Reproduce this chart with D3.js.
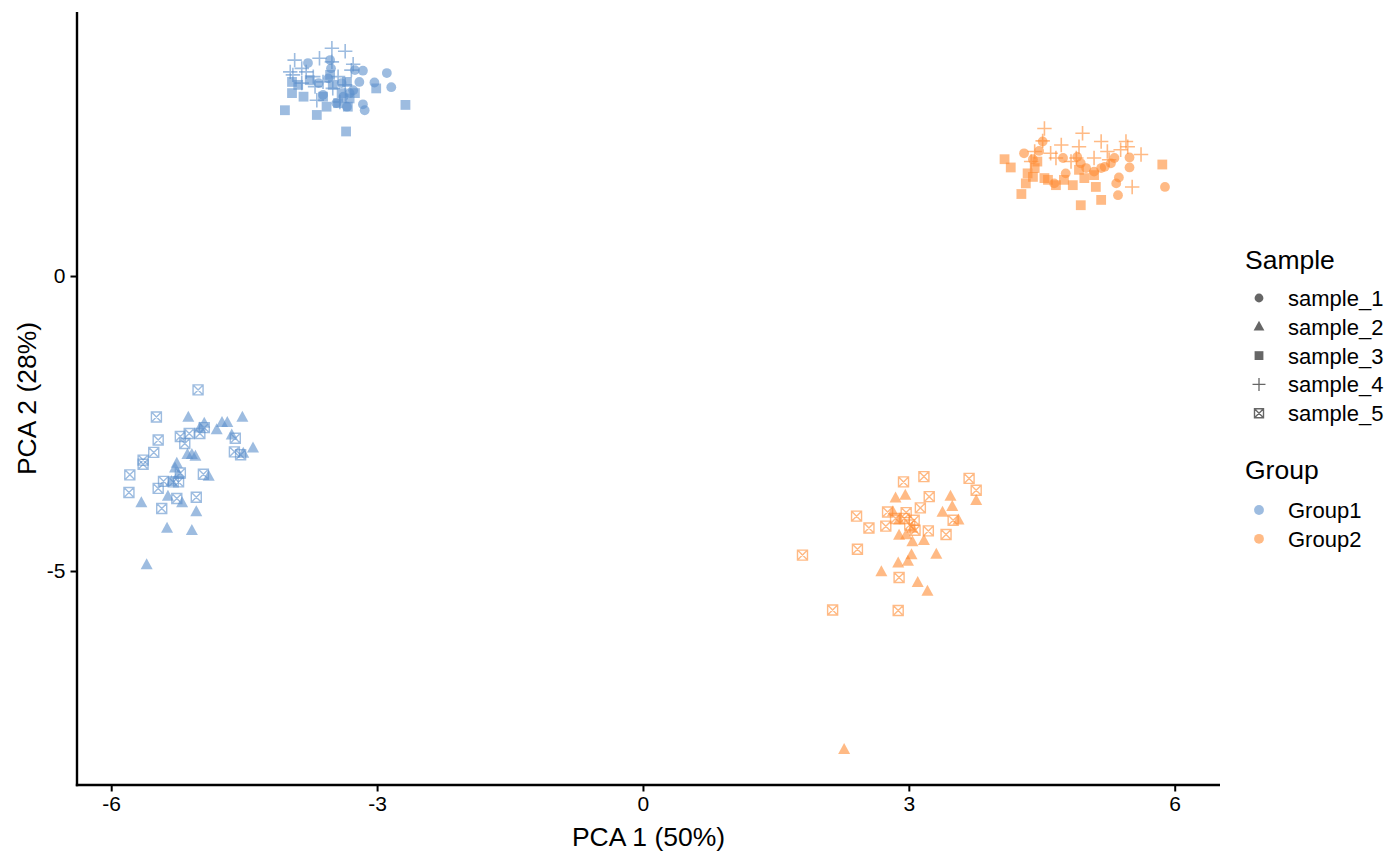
<!DOCTYPE html>
<html>
<head>
<meta charset="utf-8">
<script src="https://cdn.jsdelivr.net/npm/d3@7"></script>
<style>
  html, body { margin: 0; padding: 0; background: #fff; }
  text { font-family: "Liberation Sans", Arial, Helvetica, sans-serif; }
</style>
</head>
<body>
<svg id="chart" width="1400" height="865"></svg>
<script>
// ---------- data ----------
const groups = ["Group1", "Group2"];
const samples = ["sample_1", "sample_2", "sample_3", "sample_4", "sample_5"];
const xTicks = [-6, -3, 0, 3, 6];
const yTicks = [-5, 0];

// Group1, sample_1 (circles)
const g1s1 = [[-3.78,3.61],[-3.53,3.66],[-3.52,3.52],[-3.16,3.48],[-2.89,3.44],[-3.20,3.29],[-3.03,3.28],[-2.84,3.20],[-3.16,2.91],[-3.14,2.81],[-3.61,3.07],[-3.31,3.10],[-3.27,3.15],[-3.34,2.87],[-3.46,2.93],[-3.55,3.35],[-3.66,3.27],[-3.40,3.27],[-3.25,3.49],[-3.38,3.04]];
// Group1, sample_3 (squares)
const g1s3 = [[-3.96,3.29],[-3.96,3.10],[-3.83,3.04],[-4.04,2.81],[-3.68,2.73],[-3.35,2.45],[-3.01,3.18],[-2.68,2.90],[-3.57,2.87],[-3.44,2.93],[-3.33,2.87],[-3.25,3.10],[-3.61,3.04],[-3.50,3.24],[-3.34,3.29],[-3.76,3.32],[-3.89,3.24],[-3.40,3.10],[-3.53,3.41],[-3.31,3.01]];
// Group1, sample_4 (crosses)
const g1s4 = [[-3.51,3.86],[-3.36,3.81],[-3.93,3.66],[-3.65,3.69],[-3.51,3.63],[-3.27,3.59],[-3.29,3.49],[-3.85,3.52],[-3.95,3.41],[-3.72,3.38],[-3.70,3.21],[-3.68,2.98],[-3.44,3.38],[-3.36,3.24],[-3.80,3.46],[-3.61,3.29],[-3.50,3.18],[-3.42,2.95],[-3.85,3.27],[-3.98,3.46]];
// Group1, sample_2 (triangles)
const g1s2 = [[-5.13,-2.40],[-4.95,-2.50],[-4.75,-2.49],[-4.69,-2.49],[-4.52,-2.40],[-4.81,-2.61],[-4.64,-2.70],[-4.40,-2.92],[-4.51,-3.01],[-5.14,-3.03],[-5.05,-3.06],[-5.26,-3.18],[-5.28,-3.26],[-5.24,-3.37],[-4.90,-3.40],[-5.36,-3.74],[-5.20,-3.85],[-5.66,-3.85],[-5.04,-4.00],[-5.37,-4.28],[-5.09,-4.32],[-5.60,-4.90],[-5.00,-2.58],[-5.32,-3.49],[-5.09,-3.03]];
// Group1, sample_5 (boxed x)
const g1s5 = [[-5.02,-1.93],[-5.49,-2.39],[-5.47,-2.78],[-5.52,-2.99],[-5.64,-3.12],[-5.64,-3.19],[-5.79,-3.37],[-5.80,-3.67],[-5.43,-3.94],[-5.26,-3.77],[-5.04,-3.75],[-4.96,-3.36],[-5.22,-3.34],[-5.24,-3.49],[-5.30,-3.49],[-5.41,-3.48],[-5.47,-3.60],[-5.22,-2.72],[-5.17,-2.84],[-5.12,-2.67],[-5.00,-2.67],[-4.95,-2.57],[-4.60,-2.75],[-4.61,-2.98],[-4.54,-3.03]];

// Group2, sample_1 (circles)
const g2s1 = [[4.30,2.08],[4.47,2.12],[4.40,1.98],[4.74,2.00],[4.51,2.28],[4.90,2.02],[4.94,1.91],[5.00,1.83],[4.77,1.74],[5.17,1.83],[5.21,1.85],[5.28,1.91],[5.32,2.00],[5.49,2.01],[5.49,1.84],[5.37,1.67],[5.34,1.57],[5.36,1.37],[5.89,1.51],[4.64,1.57],[5.09,1.77]];
// Group2, sample_3 (squares)
const g2s3 = [[4.08,1.98],[4.15,1.84],[4.27,1.39],[4.32,1.57],[4.53,1.66],[4.66,1.54],[4.85,1.54],[4.94,1.20],[5.17,1.29],[5.11,1.51],[5.86,1.89],[4.42,1.83],[4.98,1.66],[4.40,1.68],[4.75,1.63],[4.57,1.63],[4.45,1.94],[4.92,1.80],[5.09,1.71],[4.34,1.74]];
// Group2, sample_4 (crosses)
const g2s4 = [[4.53,2.50],[4.51,2.29],[4.72,2.22],[4.96,2.42],[5.17,2.28],[4.92,2.19],[4.89,2.00],[5.09,2.00],[5.45,2.28],[5.47,2.19],[5.62,2.06],[5.39,2.14],[5.52,1.51],[4.38,1.94],[4.60,2.08],[4.66,2.00],[4.42,2.11],[5.24,2.11],[4.83,1.94],[5.26,1.97]];
// Group2, sample_2 (triangles)
const g2s2 = [[2.85,-3.77],[2.96,-3.72],[3.47,-3.74],[3.49,-3.91],[3.76,-3.81],[3.38,-4.01],[3.56,-4.14],[2.89,-4.40],[2.97,-4.39],[3.04,-4.51],[3.17,-4.49],[3.31,-4.72],[3.03,-4.73],[2.99,-4.84],[2.88,-4.87],[2.69,-5.02],[3.10,-5.20],[3.21,-5.35],[2.82,-4.00],[2.89,-4.14],[3.04,-4.28],[2.27,-8.03]];
// Group2, sample_5 (boxed x)
const g2s5 = [[2.94,-3.49],[3.17,-3.40],[3.68,-3.43],[3.76,-3.63],[3.23,-3.74],[3.13,-3.93],[2.41,-4.07],[2.55,-4.27],[2.76,-4.00],[2.97,-4.01],[2.74,-4.24],[2.85,-4.11],[3.06,-4.14],[3.07,-4.31],[3.22,-4.32],[3.42,-4.38],[3.50,-4.14],[2.42,-4.63],[1.80,-4.73],[2.89,-5.11],[2.14,-5.66],[2.88,-5.67],[2.95,-4.11],[3.01,-4.22]];

const series = [
  {group: "Group1", sample: "sample_1", pts: g1s1},
  {group: "Group1", sample: "sample_2", pts: g1s2},
  {group: "Group1", sample: "sample_3", pts: g1s3},
  {group: "Group1", sample: "sample_4", pts: g1s4},
  {group: "Group1", sample: "sample_5", pts: g1s5},
  {group: "Group2", sample: "sample_1", pts: g2s1},
  {group: "Group2", sample: "sample_2", pts: g2s2},
  {group: "Group2", sample: "sample_3", pts: g2s3},
  {group: "Group2", sample: "sample_4", pts: g2s4},
  {group: "Group2", sample: "sample_5", pts: g2s5}
];

// ---------- layout ----------
const svg = d3.select("#chart");
const L = 77, R = 1220, T = 12, B = 785;

const x = d3.scaleLinear().domain([-6.386, 6.511]).range([L, R]);
const y = d3.scaleLinear().domain([-8.627, 4.475]).range([B, T]);

const color = d3.scaleOrdinal().domain(groups).range(["#5B8FCC", "#FF8C33"]);
const OPA = 0.6;

function shapePath(sample, s) {
  switch (sample) {
    case "sample_1": { const r = 4.9 * s; return `M${-r},0A${r},${r} 0 1,0 ${r},0A${r},${r} 0 1,0 ${-r},0Z`; }
    case "sample_2": { const h = 11 * s, w = 12 * s; return `M0,${-h*0.62}L${w/2},${h*0.38}L${-w/2},${h*0.38}Z`; }
    case "sample_3": { const a = 4.9 * s; return `M${-a},${-a}H${a}V${a}H${-a}Z`; }
    case "sample_4": { const a = 7.2 * s; return `M${-a},0H${a}M0,${-a}V${a}`; }
    case "sample_5": { const a = 5 * s; return `M${-a},${-a}H${a}V${a}H${-a}ZM${-a},${-a}L${a},${a}M${a},${-a}L${-a},${a}`; }
  }
}
function isStroke(sample) { return sample === "sample_4" || sample === "sample_5"; }

// ---------- axes ----------
const fmt = d => String(d);   // plain hyphen-minus as in the original
const xAxis = d3.axisBottom(x).tickValues(xTicks).tickSize(6.5).tickPadding(5).tickFormat(fmt);
const yAxis = d3.axisLeft(y).tickValues(yTicks).tickSize(6.5).tickPadding(5).tickFormat(fmt);

const gx = svg.append("g").attr("transform", `translate(0,${B})`).call(xAxis);
const gy = svg.append("g").attr("transform", `translate(${L},0)`).call(yAxis);
[gx, gy].forEach(g => {
  g.select(".domain").remove();
  g.selectAll(".tick line").attr("stroke", "#000").attr("stroke-width", 2);
  g.selectAll(".tick text").attr("fill", "#000").style("font-size", "21px")
    .style("font-family", "'Liberation Sans', Arial, sans-serif");
});
// axis lines (classic theme)
svg.append("line").attr("x1", L - 1.2).attr("x2", R).attr("y1", B).attr("y2", B)
  .attr("stroke", "#000").attr("stroke-width", 2.4);
svg.append("line").attr("x1", L).attr("x2", L).attr("y1", T).attr("y2", B + 1.2)
  .attr("stroke", "#000").attr("stroke-width", 2.4);

// axis titles
svg.append("text").attr("x", (L + R) / 2).attr("y", 846).attr("text-anchor", "middle")
  .style("font-size", "26.5px").text("PCA 1 (50%)");
svg.append("text").attr("transform", `translate(36,${(T + B) / 2}) rotate(-90)`)
  .attr("text-anchor", "middle").style("font-size", "26.5px").text("PCA 2 (28%)");

// ---------- points ----------
const plot = svg.append("g");
series.forEach(s => {
  plot.selectAll(null).data(s.pts).enter().append("path")
    .attr("transform", d => `translate(${x(d[0])},${y(d[1])})`)
    .attr("d", shapePath(s.sample, 1))
    .attr("fill", isStroke(s.sample) ? "none" : color(s.group))
    .attr("stroke", isStroke(s.sample) ? color(s.group) : "none")
    .attr("stroke-width", s.sample === "sample_4" ? 1.6 : 1.4)
    .attr("opacity", OPA);
});

// ---------- legend ----------
const lg = svg.append("g");
lg.append("text").attr("x", 1245).attr("y", 269).style("font-size", "26.5px").text("Sample");
samples.forEach((sm, i) => {
  const cy = 298 + i * 28.8;
  lg.append("path").attr("transform", `translate(1259,${cy})`)
    .attr("d", shapePath(sm, 0.9))
    .attr("fill", isStroke(sm) ? "none" : "#000")
    .attr("stroke", isStroke(sm) ? "#000" : "none")
    .attr("stroke-width", sm === "sample_4" ? 1.3 : 1.4)
    .attr("opacity", OPA);
  lg.append("text").attr("x", 1288).attr("y", cy + 8).style("font-size", "22px").text(sm);
});
lg.append("text").attr("x", 1245).attr("y", 479).style("font-size", "26.5px").text("Group");
groups.forEach((gname, i) => {
  const cy = 510 + i * 28.8;
  lg.append("path").attr("transform", `translate(1259,${cy})`)
    .attr("d", shapePath("sample_1", 1))
    .attr("fill", color(gname)).attr("opacity", OPA);
  lg.append("text").attr("x", 1288).attr("y", cy + 8).style("font-size", "22px").text(gname);
});
</script>
</body>
</html>
